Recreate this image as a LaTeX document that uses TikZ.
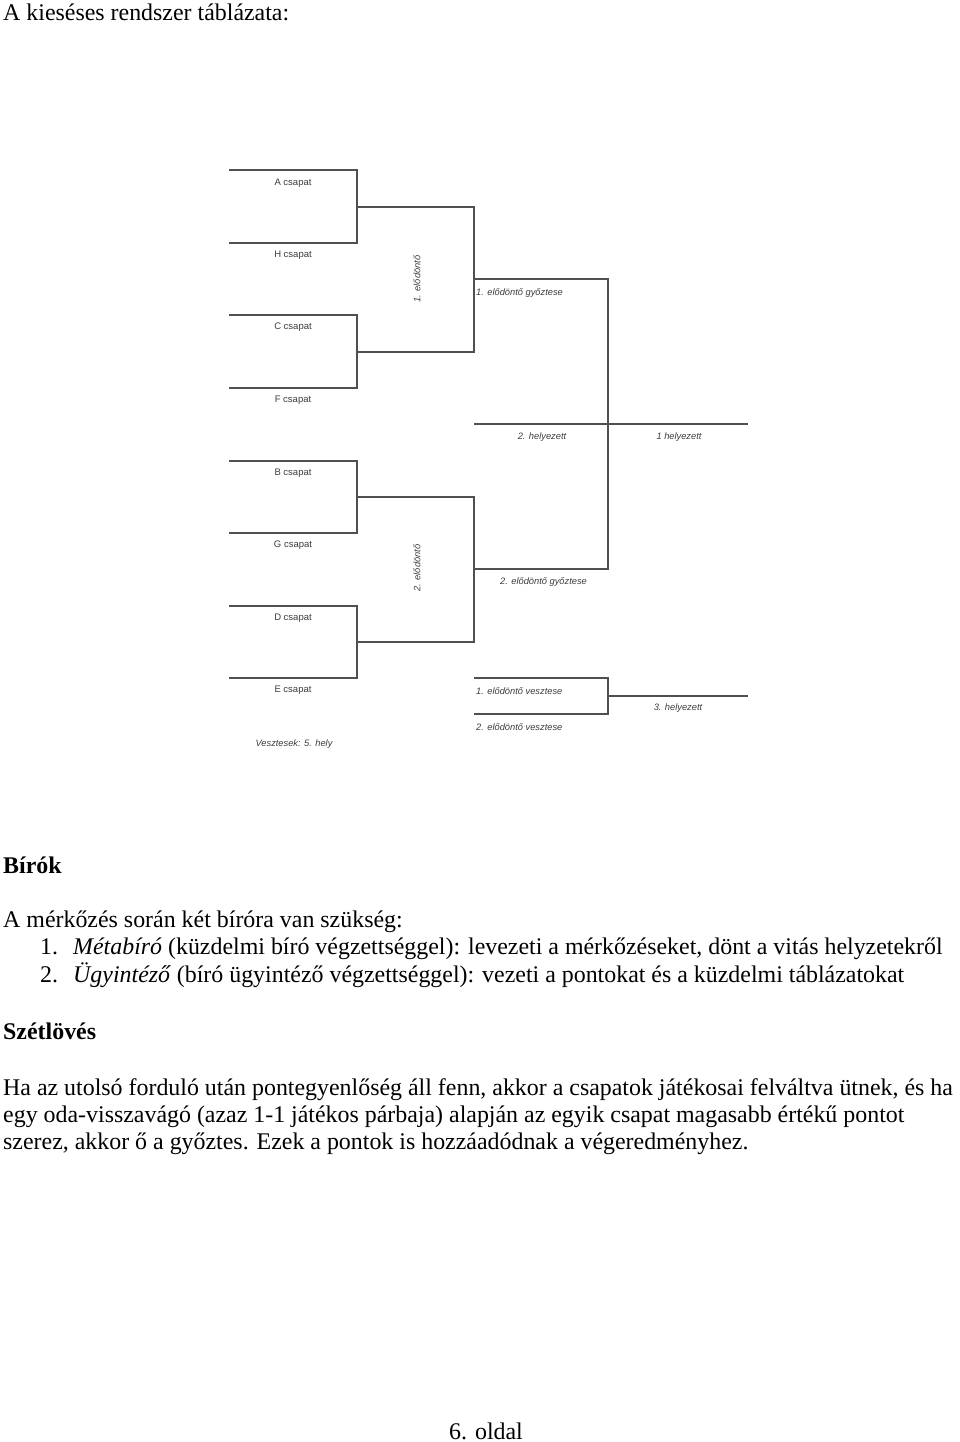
\documentclass[tikz,border=0pt]{standalone}
\usepackage{fontspec}
\setmainfont{Liberation Serif}
\newfontfamily\bracketfont{Liberation Sans}
\usetikzlibrary{positioning}
\definecolor{linecolor}{RGB}{80,80,80}
\definecolor{labelcolor}{RGB}{60,60,60}

\begin{document}
\begin{tikzpicture}[x=1pt, y=-1pt,
    bline/.style={draw=linecolor, line width=1.2pt},
    team/.style={font=\bracketfont\fontsize{9.5}{11}\selectfont, text=labelcolor, inner sep=0pt},
    slot/.style={font=\bracketfont\itshape\fontsize{9.3}{11}\selectfont, text=labelcolor, inner sep=0pt},
    body/.style={font=\fontsize{23.9}{28}\selectfont, anchor=base west, inner sep=0pt}]
                \useasboundingbox (0,0) rectangle (960,1442);
                % Title above the bracket
                \node[body] (title) at (3,21) {A kieséses rendszer táblázata:};

                % Bracket points, first round
                \coordinate (a1) at (229,170); \coordinate (a2) at (357,170);
                \coordinate (h1) at (229,243); \coordinate (h2) at (357,243);
                \coordinate (c1) at (229,315); \coordinate (c2) at (357,315);
                \coordinate (f1) at (229,388); \coordinate (f2) at (357,388);
                \coordinate (b1) at (229,461); \coordinate (b2) at (357,461);
                \coordinate (g1) at (229,533); \coordinate (g2) at (357,533);
                \coordinate (d1) at (229,606); \coordinate (d2) at (357,606);
                \coordinate (e1) at (229,678); \coordinate (e2) at (357,678);
                % Bracket points, semifinals and final
                \coordinate (ah) at (357,207); \coordinate (s1top) at (474,207);
                \coordinate (cf) at (357,352); \coordinate (s1bot) at (474,352);
                \coordinate (bg) at (357,497); \coordinate (s2top) at (474,497);
                \coordinate (de) at (357,642); \coordinate (s2bot) at (474,642);
                \coordinate (w1) at (474,279); \coordinate (w1e) at (608,279);
                \coordinate (w2) at (474,569); \coordinate (w2e) at (608,569);
                \coordinate (fin1) at (474,424); \coordinate (fin2) at (748,424);
                \coordinate (l1) at (474,678); \coordinate (l1e) at (608,678);
                \coordinate (l2) at (474,714); \coordinate (l2e) at (608,714);
                \coordinate (third) at (608,696); \coordinate (third2) at (748,696);

                % First round brackets
                \draw[bline] (a1) -- (a2) -- (h2) -- (h1);
                \draw[bline] (c1) -- (c2) -- (f2) -- (f1);
                \draw[bline] (b1) -- (b2) -- (g2) -- (g1);
                \draw[bline] (d1) -- (d2) -- (e2) -- (e1);
                \draw[bline] (ah) -- (s1top) -- (s1bot) -- (cf);
                \draw[bline] (bg) -- (s2top) -- (s2bot) -- (de);
                % Semifinal winners and the final
                \draw[bline] (w1) -- (w1e) -- (w2e) -- (w2);
                \draw[bline] (fin1) -- (fin2);
                % Match for third place
                \draw[bline] (l1) -- (l1e) -- (l2e) -- (l2);
                \draw[bline] (third) -- (third2);

                % Team names
                \node[team] (ta) at (293,183) {A csapat};
                \node[team] (th) at (293,255.5) {H csapat};
                \node[team] (tc) at (293,327.5) {C csapat};
                \node[team] (tf) at (293,400.5) {F csapat};
                \node[team] (tb) at (293,473.5) {B csapat};
                \node[team] (tg) at (293,545.5) {G csapat};
                \node[team] (td) at (293,618.5) {D csapat};
                \node[team] (te) at (293,690.5) {E csapat};
                \node[slot] (fifth) at (294,744) {Vesztesek: 5. hely};

                % Semifinal labels
                \node[slot, rotate=90] (semi1) at (417,279) {1. elődöntő};
                \node[slot, rotate=90] (semi2) at (417,568) {2. elődöntő};
                \node[slot, anchor=west] (win1) at (476,293) {1. elődöntő győztese};
                \node[slot, anchor=west] (win2) at (500,582) {2. elődöntő győztese};
                \node[slot] (second) at (542,437) {2. helyezett};
                \node[slot] (first) at (679,437) {1 helyezett};
                \node[slot, anchor=west] (lose1) at (476,691) {1. elődöntő vesztese};
                \node[slot, anchor=west] (lose2) at (476,727) {2. elődöntő vesztese};
                \node[slot] (thirdpl) at (678,708.5) {3. helyezett};

                % Text below the bracket
                \node[body] (judges) at (3,873) {\textbf{Bírók}};
                \node[body] (need) at (3,927) {A mérkőzés során két bíróra van szükség:};
                \node[body] (n1) at (40,954) {1.};
                \node[body] (item1) at (73,954) {\textit{Métabíró} (küzdelmi bíró végzettséggel): levezeti a mérkőzéseket, dönt a vitás helyzetekről};
                \node[body] (n2) at (40,982) {2.};
                \node[body] (item2) at (73,982) {\textit{Ügyintéző} (bíró ügyintéző végzettséggel): vezeti a pontokat és a küzdelmi táblázatokat};
                \node[body] (shoot) at (3,1039) {\textbf{Szétlövés}};
                \node[body] (par1) at (3,1095) {Ha az utolsó forduló után pontegyenlőség áll fenn, akkor a csapatok játékosai felváltva ütnek, és ha};
                \node[body] (par2) at (3,1122) {egy oda-visszavágó (azaz 1-1 játékos párbaja) alapján az egyik csapat magasabb értékű pontot};
                \node[body] (par3) at (3,1149) {szerez, akkor ő a győztes. Ezek a pontok is hozzáadódnak a végeredményhez.};
                \node[body, anchor=base] (page) at (486,1439) {6. oldal};
            \end{tikzpicture}
\end{document}
